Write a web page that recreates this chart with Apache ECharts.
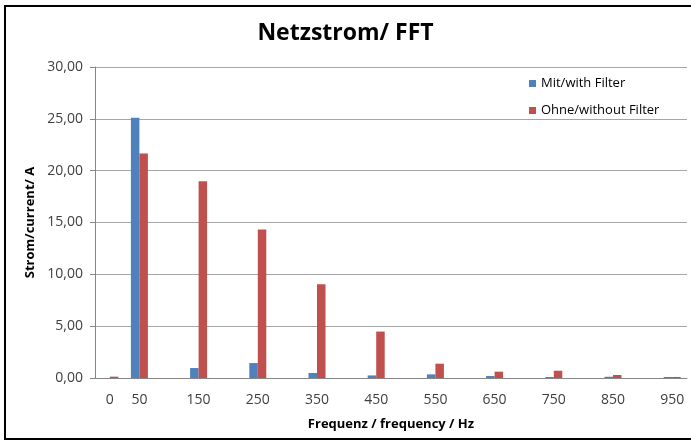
<!DOCTYPE html>
<html>
<head>
<meta charset="utf-8">
<script src="https://cdn.jsdelivr.net/npm/echarts@6/dist/echarts.min.js"></script>
<style>
html,body{margin:0;padding:0;background:#fff;overflow:hidden;}
#c{width:691px;height:442px;}
</style>
</head>
<body>
<div id="c"></div>
<script>
// Categories every 50 Hz; only odd harmonics (and 0) carry labels
const categories = ['0','50','','150','','250','','350','','450','','550','','650','','750','','850','','950'];
const withFilter    = [0, 25.1, 0, 0.96, 0, 1.44, 0, 0.48, 0, 0.25, 0, 0.35, 0, 0.19, 0, 0.10, 0, 0.12, 0, 0.10];
const withoutFilter = [0.13, 21.65, 0, 18.97, 0, 14.33, 0, 9.04, 0, 4.48, 0, 1.38, 0, 0.61, 0, 0.70, 0, 0.29, 0, 0.10];
const yTicks = [0, 5, 10, 15, 20, 25, 30];

const FONT = '"Open Sans", "Noto Sans", sans-serif';
const chart = echarts.init(document.getElementById('c'));
chart.setOption({
  backgroundColor: '#ffffff',
  animation: false,
  textStyle: { fontFamily: FONT },
  graphic: [{
    type: 'polyline', z: -1, silent: true,
    shape: { points: [[691, 6], [5, 6], [5, 439], [691, 439]] },
    style: { fill: 'none', stroke: '#000', lineWidth: 2 }
  }],
  title: {
    text: 'Netzstrom/ FFT',
    left: 'center', top: 17,
    textStyle: { fontFamily: FONT, fontSize: 23, fontWeight: 'bold', color: '#000' }
  },
  legend: {
    orient: 'vertical', left: 524, top: 72,
    itemWidth: 7, itemHeight: 7, itemGap: 14,
    icon: 'rect',
    textStyle: { fontFamily: FONT, fontSize: 13, color: '#000' },
    data: ['Mit/with Filter', 'Ohne/without Filter']
  },
  grid: { left: 95, right: 4, top: 67, bottom: 64 },
  xAxis: {
    type: 'category',
    data: categories,
    name: 'Frequenz / frequency / Hz',
    nameLocation: 'middle', nameGap: 40,
    nameTextStyle: { fontFamily: FONT, fontSize: 13, fontWeight: 'bold', color: '#000' },
    axisLine: { lineStyle: { color: '#868686', width: 1 } },
    axisTick: { show: false },
    axisLabel: { interval: 0, margin: 15, fontSize: 14, color: '#404040', fontFamily: FONT }
  },
  yAxis: {
    type: 'value',
    min: 0, max: 30, interval: 5,
    name: 'Strom/current/ A',
    nameLocation: 'middle', nameGap: 53,
    nameTextStyle: { fontFamily: FONT, fontSize: 13, fontWeight: 'bold', color: '#000' },
    axisLine: { show: true, lineStyle: { color: '#868686', width: 1 } },
    axisTick: { show: true, length: 5, lineStyle: { color: '#868686' } },
    splitLine: { lineStyle: { color: '#a6a6a6', width: 1 } },
    axisLabel: {
      fontSize: 14, color: '#404040', margin: 12, fontFamily: FONT,
      formatter: v => yTicks.includes(v) ? v.toFixed(2).replace('.', ',') : ''
    }
  },
  series: [
    { name: 'Mit/with Filter', type: 'bar', data: withFilter, barWidth: 8.5, barGap: '0%',
      itemStyle: { color: '#4f81bd' } },
    { name: 'Ohne/without Filter', type: 'bar', data: withoutFilter, barWidth: 8.5, barGap: '0%',
      itemStyle: { color: '#c0504d' } }
  ]
});
</script>
</body>
</html>
